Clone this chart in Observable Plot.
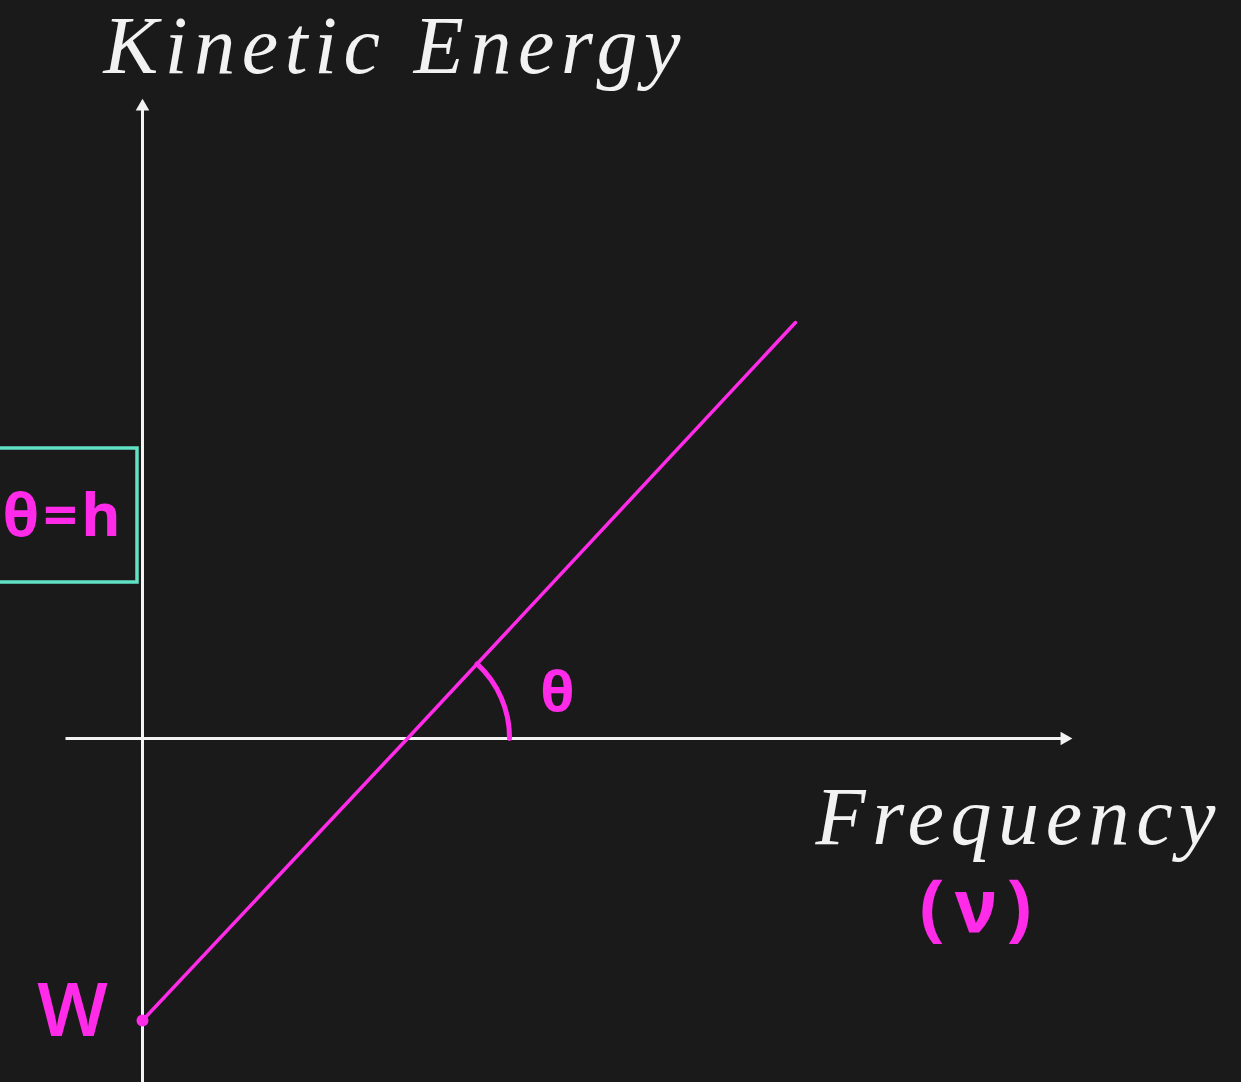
<!DOCTYPE html>
<html>
<head>
<meta charset="utf-8">
<script src="https://cdn.jsdelivr.net/npm/d3@7"></script>
<script src="https://cdn.jsdelivr.net/npm/@observablehq/plot@0.6"></script>
<style>
  html, body { margin: 0; padding: 0; background: #1b1a1a; overflow: hidden; }
</style>
</head>
<body>
<div id="chart"></div>
<script>
// Photoelectric effect: KE = hν − W (straight line, slope h, intercept −W)
const frequency = [0, 2.65, 6.53];          // ν (arbitrary units)
const kineticEnergy = [-2.82, 0, 4.16];     // KE (arbitrary units)
const axisTitles = ["Kinetic Energy", "Frequency"];
const notes = { slope: "θ=h", intercept: "W", angle: "θ", freq: "(ν)" };

const line = frequency.map((f, i) => ({ f, ke: kineticEnergy[i] }));
const threshold = line[1];
const theta = Math.atan2(kineticEnergy[2] - kineticEnergy[1], frequency[2] - frequency[1]);
const arcR = 1.02;

// coordinate axes: shafts and arrow tips
const axes = [
  { x1: -0.77, y1: 0, x2: 9.22, y2: 0, rotate: 90 },
  { x1: 0, y1: -3.5, x2: 0, y2: 6.32, rotate: 0 }
];

const MAGENTA = "#ff2be9";
const TEAL = "#62e2c4";
const INK = "#f2f2f2";
const HAND = "'Noto Sans', Lato, sans-serif";
const SERIF = "'Liberation Serif', 'DejaVu Serif', serif";

const chart = Plot.plot({
  width: 1241,
  height: 1082,
  margin: 0,
  x: { domain: [-1.42, 10.99], axis: null },
  y: { domain: [-3.44, 7.38], axis: null },
  style: { background: "#1b1a1a" },
  marks: [
    Plot.link(axes, {
      x1: "x1", y1: "y1", x2: "x2", y2: "y2",
      stroke: INK, strokeWidth: 3
    }),
    Plot.dot(axes, {
      x: "x2", y: "y2", rotate: "rotate", symbol: "triangle2",
      r: 6.5, fill: INK, stroke: "none"
    }),
    // slope box
    Plot.rect([{ x1: -1.48, x2: -0.05, y1: 1.56, y2: 2.9 }], {
      x1: "x1", x2: "x2", y1: "y1", y2: "y2",
      fill: "none", stroke: TEAL, strokeWidth: 3.5
    }),
    Plot.text([notes.slope], {
      x: -1.40, y: 2.22, text: d => d, textAnchor: "start",
      fill: MAGENTA, fontSize: 60, fontFamily: HAND, fontWeight: "bold",
      className: "spread-slope"
    }),
    // KE vs ν line
    Plot.line(line, { x: "f", y: "ke", stroke: MAGENTA, strokeWidth: 3.5 }),
    Plot.dot([line[0]], { x: "f", y: "ke", r: 6, fill: MAGENTA }),
    // angle θ at the threshold frequency
    Plot.arrow([threshold], {
      x1: d => d.f + arcR, y1: 0,
      x2: d => d.f + arcR * Math.cos(theta), y2: d => arcR * Math.sin(theta),
      bend: -24, headLength: 0, stroke: MAGENTA, strokeWidth: 5, strokeLinecap: "round"
    }),
    Plot.text([notes.angle], {
      x: 4.15, y: 0.45, text: d => d,
      fill: MAGENTA, fontSize: 56, fontFamily: HAND, fontWeight: "bold"
    }),
    Plot.text([notes.intercept], {
      x: -0.70, y: -2.74, text: d => d,
      fill: MAGENTA, fontSize: 74, fontFamily: HAND, fontWeight: 600
    }),
    Plot.text([notes.freq], {
      x: 8.33, y: -1.70, text: d => d,
      fill: MAGENTA, fontSize: 74, fontFamily: HAND, fontWeight: "bold",
      className: "spread-freq-sym"
    }),
    // axis titles
    Plot.text([axisTitles[0]], {
      x: -0.39, y: 6.92, text: d => d, textAnchor: "start",
      fill: INK, fontSize: 82, fontFamily: SERIF, fontStyle: "italic",
      className: "spread-ke"
    }),
    Plot.text([axisTitles[1]], {
      x: 6.73, y: -0.79, text: d => d, textAnchor: "start",
      fill: INK, fontSize: 82, fontFamily: SERIF, fontStyle: "italic",
      className: "spread-freq"
    })
  ]
});

// widen the lettering of the titles to their set lengths
const spread = { "spread-ke": 577, "spread-freq": 400, "spread-slope": 118, "spread-freq-sym": 112 };
for (const [cls, len] of Object.entries(spread)) {
  d3.select(chart).selectAll(`.${cls} text`)
    .attr("textLength", len)
    .attr("lengthAdjust", "spacing");
}

document.getElementById("chart").append(chart);
</script>
</body>
</html>
